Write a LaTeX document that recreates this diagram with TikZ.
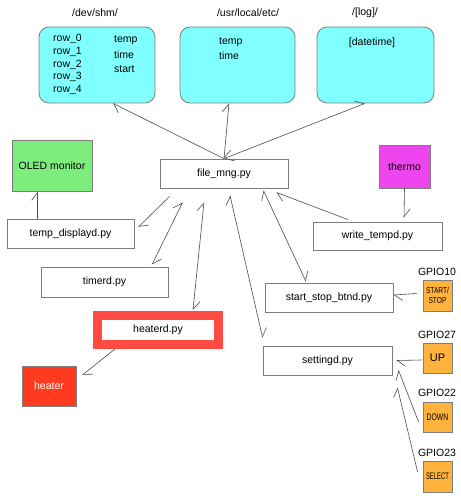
\documentclass[tikz,border=0pt]{standalone}
\usepackage{fontspec}
\setmainfont{Liberation Sans}
\usepackage{graphicx}
\usetikzlibrary{arrows.meta, calc, positioning}
\definecolor{dircyan}{RGB}{128, 255, 255}
\definecolor{oledgreen}{RGB}{125, 238, 125}
\definecolor{thermopink}{RGB}{238, 70, 238}
\definecolor{heatred}{RGB}{255, 58, 30}
\definecolor{framered}{RGB}{255, 75, 65}
\definecolor{gpioorange}{RGB}{255, 178, 60}
\definecolor{edgegray}{RGB}{125, 125, 125}
\newcommand{\diagfont}{\fontsize{10.5}{12.75}\selectfont}
\newcommand{\narrowtxt}[2]{\scalebox{#1}[1]{#2}}

\begin{document}
\begin{tikzpicture}[x=1pt, y=-1pt,
  txt/.style={font=\diagfont, inner sep=1pt},
  dirbox/.style={draw=edgegray, fill=dircyan, rounded corners=10pt, minimum width=116pt, minimum height=76pt, line width=0.8pt},
  pybox/.style={draw=edgegray, fill=white, minimum width=128pt, minimum height=29pt, font=\diagfont, line width=0.8pt},
  hwbox/.style={draw=edgegray, font=\diagfont, line width=0.8pt, inner sep=0pt},
  btn/.style={draw=edgegray, fill=gpioorange, minimum width=29pt, minimum height=30pt, inner sep=0pt, align=center, line width=0.8pt},
  conn/.style={draw=black!70, line width=0.6pt},
  >={Straight Barb[harpoon, length=8pt, width=12pt]}]
  \fill[white] (0,0) rectangle (460,500);
  \useasboundingbox (0,0) rectangle (460,500);

  % Shared directories
  \node[txt] (shmlbl) at (95, 13) {/dev/shm/};
  \node[txt] (usrlbl) at (248, 13) {/usr/local/etc/};
  \node[txt] (loglbl) at (365, 13) {/[log]/};
  \node[dirbox] (shm) at (97, 65) {};
  \node[dirbox, minimum width=115pt] (usr) at (237.5, 65) {};
  \node[dirbox, minimum width=117pt] (log) at (375.5, 65) {};

  \foreach \i in {0,...,4}
    \node[txt, anchor=west] (row\i) at (52, 39+12.75*\i) {row\_\i};
  \node[txt, anchor=west] (shmtemp) at (113, 40) {temp};
  \node[txt, anchor=west] (shmtime) at (113, 54.5) {time};
  \node[txt, anchor=west] (shmstart) at (113, 69) {start};
  \node[txt, anchor=west] (usrtemp) at (218, 42) {temp};
  \node[txt, anchor=west] (usrtime) at (218, 56) {time};
  \node[txt] (logdate) at (372, 43) {[datetime]};

  % Daemons
  \node[pybox] (filemng) at (224, 173.5) {file\_mng.py};
  \node[pybox, minimum width=127pt] (tempdisp) at (70.5, 233.5) {temp\_displayd.py};
  \node[pybox, minimum width=129pt, minimum height=28pt] (writetemp) at (377.5, 236) {write\_tempd.py};
  \node[pybox, minimum width=127pt, minimum height=30pt] (timerd) at (104.5, 282) {timerd.py};
  \node[pybox] (startstop) at (329, 297.5) {start\_stop\_btnd.py};
  \node[pybox, draw=framered, line width=9pt, minimum width=121pt, minimum height=29pt] (heaterd) at (158, 330) {heaterd.py};
  \node[pybox, minimum width=129pt] (settingd) at (327.5, 360.5) {settingd.py};

  % Hardware
  \node[hwbox, fill=oledgreen, minimum width=80pt, minimum height=51pt] (oled) at (52, 165.5) {OLED monitor};
  \node[hwbox, fill=thermopink, minimum width=51pt, minimum height=43pt] (thermo) at (404.5, 166.5) {thermo};
  \node[hwbox, fill=heatred, text=white, minimum width=54pt, minimum height=40pt] (heater) at (49, 386) {heater};

  % GPIO buttons
  \node[txt] (gpio10) at (437, 272) {GPIO10};
  \node[txt] (gpio27) at (437, 335) {GPIO27};
  \node[txt] (gpio22) at (437, 393) {GPIO22};
  \node[txt] (gpio23) at (437, 453) {GPIO23};
  \node[btn, minimum height=31pt, font=\fontsize{8.5}{10}\selectfont] (startbtn) at (437.5, 295.5) {\narrowtxt{0.78}{START/}\\\narrowtxt{0.78}{STOP}};
  \node[btn, font=\fontsize{11}{12}\selectfont] (upbtn) at (437.5, 358) {UP};
  \node[btn, font=\fontsize{9.5}{10}\selectfont] (downbtn) at (437.5, 417) {\narrowtxt{0.72}{DOWN}};
  \node[btn, minimum height=31pt, font=\fontsize{9.5}{10}\selectfont] (selectbtn) at (437.5, 476.5) {\narrowtxt{0.62}{SELECT}};

  % file_mng.py <-> directories
  \draw[conn, ->] (filemng.north) -- ($(shm.south)+(16,0)$);
  \draw[conn, <->] (filemng.north) -- ($(usr.south)+(-8.5,0)$);
  \draw[conn, <->] (filemng.north) -- ($(log.south)+(-10.5,0)$);

  % file_mng.py <-> daemons
  \draw[conn, ->] ($(filemng.south west)+(10,8)$) -- ($(tempdisp.east)+(4,-6.5)$);
  \draw[conn, <->] ($(filemng.south west)+(23,14)$) -- ($(timerd.north)+(47.5,-2)$);
  \draw[conn, <->] ($(filemng.south)+(-20,14)$) -- ($(heaterd.north)+(35,-1)$);
  \draw[conn, <->] ($(filemng.south)+(6,7)$) -- ($(settingd.north west)+(0,-8)$);
  \draw[conn, <->] ($(filemng.south east)+(-25,2)$) -- ($(startstop.north)+(-23,-1)$);
  \draw[conn, ->] ($(writetemp.north)+(-29.5,-2)$) -- ($(filemng.south east)+(-12,4)$);

  % devices
  \draw[conn, ->] (thermo.south) -- ($(writetemp.north)+(26.5,-4)$);
  \draw[conn, ->] ($(tempdisp.north west)+(31,0)$) -- ($(oled.south west)+(26,0)$);
  \draw[conn, ->] ($(heaterd.south west)+(22,0)$) -- ($(heater.east)+(6,-11)$);
  \draw[conn, ->] ($(startbtn.west)+(-6,-2)$) -- ($(startstop.east)+(0,-2.5)$);
  \draw[conn, ->] ($(upbtn.west)+(-1,2)$) -- ($(settingd.east)+(4,0)$);
  \draw[conn, ->] ($(downbtn.west)+(-4,5)$) -- ($(settingd.east)+(6,9.5)$);
  \draw[conn, ->] ($(selectbtn.west)+(-5,-4.5)$) -- ($(settingd.south east)+(5,12)$);
\end{tikzpicture}
\end{document}
